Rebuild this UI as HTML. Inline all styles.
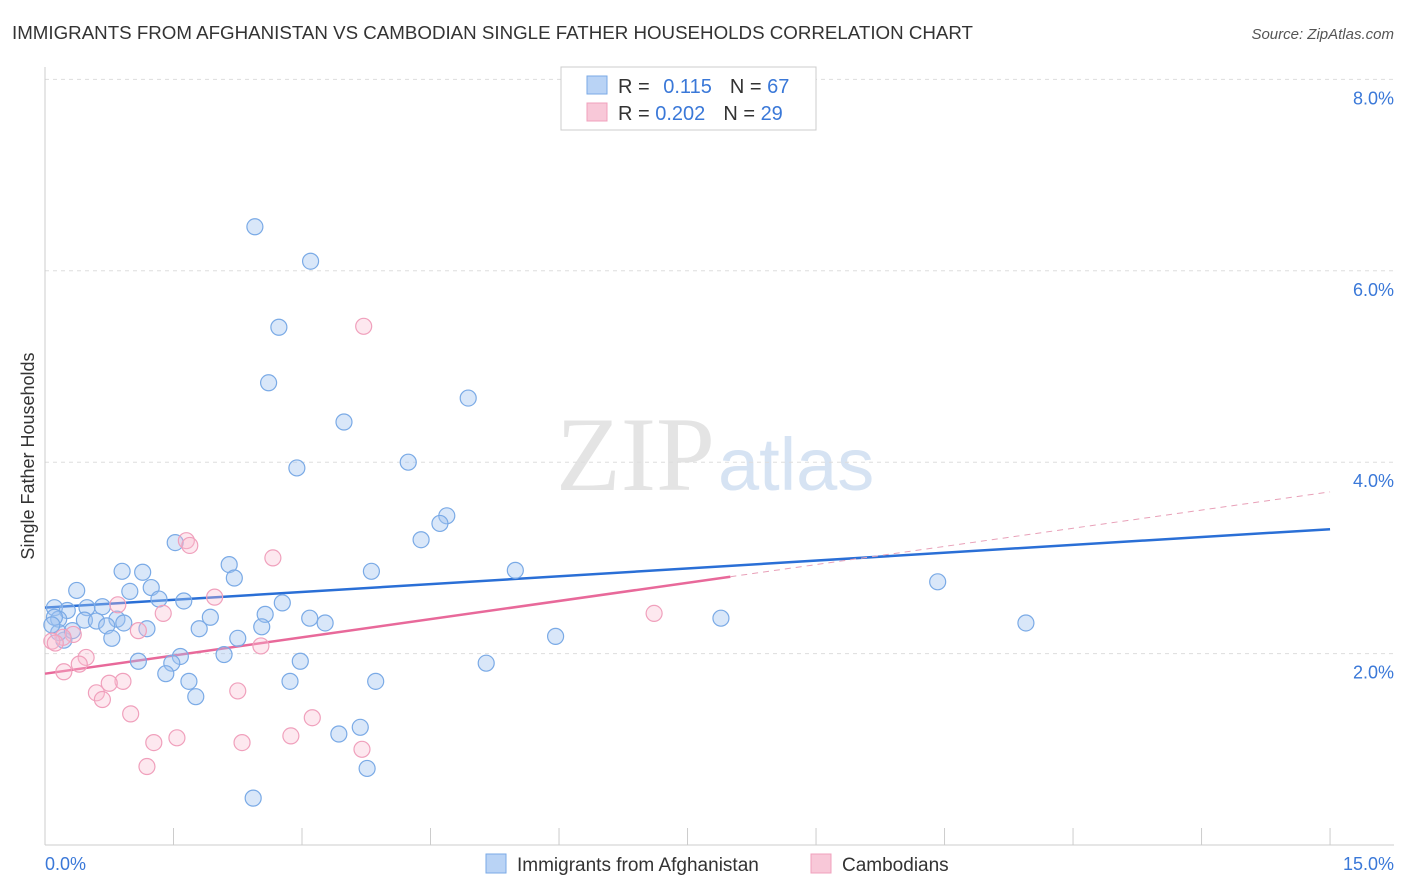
<!DOCTYPE html>
<html><head><meta charset="utf-8"><style>
body{margin:0;background:#fff;font-family:"Liberation Sans",sans-serif;}
#c{position:relative;width:1406px;height:892px;overflow:hidden;}
</style></head><body>
<div id="c">
<svg id="s" width="1406" height="892" xmlns="http://www.w3.org/2000/svg">
<text x="12" y="39" font-size="18" fill="#333" textLength="961" lengthAdjust="spacingAndGlyphs">IMMIGRANTS FROM AFGHANISTAN VS CAMBODIAN SINGLE FATHER HOUSEHOLDS CORRELATION CHART</text>
<text x="1394" y="39" font-size="15" fill="#555" font-style="italic" text-anchor="end">Source: ZipAtlas.com</text>
<text x="715" y="490" font-size="106" fill="#e4e4e4" font-family="Liberation Serif" text-anchor="end">ZIP</text>
<text x="718" y="490" font-size="74" fill="#d6e3f3">atlas</text>
<text transform="translate(34,456) rotate(-90)" font-size="18" fill="#333" text-anchor="middle">Single Father Households</text>
<g id="grid"></g><g id="axes"></g><g id="lines"></g><g id="pts"></g>
<rect x="561" y="67" width="255" height="63" fill="#fff" stroke="#ccc"/>
<rect x="587" y="76" width="20" height="18" fill="#b9d3f5" stroke="#7aaae6"/>
<rect x="587" y="103" width="20" height="18" fill="#f8c8d8" stroke="#f0a0bc"/>
<text x="618" y="93" font-size="20" fill="#333">R = <tspan fill="#3a78d8" dx="8">0.115</tspan><tspan fill="#333" dx="18">N = </tspan><tspan fill="#3a78d8">67</tspan></text>
<text x="618" y="120" font-size="20" fill="#333">R = <tspan fill="#3a78d8">0.202</tspan><tspan fill="#333" dx="18">N = </tspan><tspan fill="#3a78d8">29</tspan></text>
<rect x="486" y="854" width="20" height="19" fill="#b9d3f5" stroke="#7aaae6"/>
<text x="517" y="871" font-size="19" fill="#333">Immigrants from Afghanistan</text>
<rect x="811" y="854" width="20" height="19" fill="#f8c8d8" stroke="#f0a0bc"/>
<text x="842" y="871" font-size="19" fill="#333">Cambodians</text>
<text x="45" y="870" font-size="18" fill="#3a78d8">0.0%</text>
<text x="1394" y="870" font-size="18" fill="#3a78d8" text-anchor="end">15.0%</text>
</svg></div>
<script>
const yTicks=[2,4,6,8];
const blueX=[2.45,3.10,2.73,2.61,4.94,3.49,4.24,2.94,4.69,4.61,4.39,1.52,2.15,3.81,5.49,0.90,1.14,2.21,10.42,0.37,0.99,1.24,1.33,1.62,2.77,0.11,0.26,0.49,0.67,2.57,1.93,3.09,7.89,11.45,0.84,0.46,0.60,0.92,3.27,0.72,0.16,1.19,1.80,2.53,5.96,2.25,0.78,0.22,0.16,2.09,1.58,1.09,1.48,2.98,5.15,1.41,1.68,2.86,3.86,1.76,3.68,3.43,3.76,2.43,0.11,0.32,0.08];
const blueY=[6.46,6.10,5.41,4.83,4.67,4.42,4.00,3.94,3.44,3.36,3.19,3.16,2.93,2.86,2.87,2.86,2.85,2.79,2.75,2.66,2.65,2.69,2.57,2.55,2.53,2.48,2.45,2.48,2.49,2.41,2.38,2.37,2.37,2.32,2.36,2.35,2.34,2.32,2.32,2.29,2.36,2.26,2.26,2.28,2.18,2.16,2.16,2.14,2.22,1.99,1.97,1.92,1.90,1.92,1.90,1.79,1.71,1.71,1.71,1.55,1.23,1.16,0.80,0.49,2.38,2.24,2.30];
const pinkX=[3.72,1.65,1.69,2.66,1.98,0.85,1.38,7.11,1.09,0.33,0.21,0.08,0.12,0.48,0.40,0.22,0.91,0.75,0.60,0.67,2.25,2.52,1.00,3.12,2.87,1.54,1.27,2.30,3.70,1.19];
const pinkY=[5.42,3.18,3.13,3.00,2.59,2.51,2.42,2.42,2.24,2.20,2.17,2.13,2.11,1.96,1.89,1.81,1.71,1.69,1.59,1.52,1.61,2.08,1.37,1.33,1.14,1.12,1.07,1.07,1.00,0.82];
const blueFit=[2.48,3.30];   // value at x=0, x=15
const pinkFit=[1.79,3.69];
const pinkSolidEnd=8;
const X=v=>45+v*85.67, Y=v=>845-v*95.7;
const NS="http://www.w3.org/2000/svg";
function mk(t,a,p){const e=document.createElementNS(NS,t);for(const k in a)e.setAttribute(k,a[k]);p.appendChild(e);return e;}
const grid=document.getElementById('grid'),axes=document.getElementById('axes'),lines=document.getElementById('lines'),pts=document.getElementById('pts');
yTicks.forEach(t=>{
 const l=mk('line',{x1:45,x2:1394,y1:Y(t),y2:Y(t),stroke:'#ddd','stroke-dasharray':'4,4'},grid);
 
 
 const tx=mk('text',{x:1394,y:Y(t)+25,'font-size':18,fill:'#3a78d8','text-anchor':'end'},grid);
 tx.textContent=t.toFixed(1)+'%';
 
 
});
const ax=mk('line',{x1:45,x2:45,y1:67,y2:845,stroke:'#ccc'},axes);


const bx=mk('line',{x1:45,x2:1394,y1:845,y2:845,stroke:'#ccc'},axes);


for(let i=1;i<=10;i++){const t=mk('line',{x1:X(i*1.5),x2:X(i*1.5),y1:828,y2:845,stroke:'#ccc'},axes);
 
 }
function dots(xs,ys,fill,stroke,name){xs.forEach((x,i)=>{const c=mk('circle',{cx:X(x),cy:Y(ys[i]),r:8,fill:fill,stroke:stroke,'stroke-width':1.2},pts);
 
 });}
dots(blueX,blueY,'rgba(160,196,240,0.4)','#7aaae6','point-afghanistan');
dots(pinkX,pinkY,'rgba(248,190,210,0.35)','#f0a0bc','point-cambodians');
const bl=mk('line',{x1:X(0),y1:Y(blueFit[0]),x2:X(15),y2:Y(blueFit[1]),stroke:'#2a6fd6','stroke-width':2.5},lines);


const pv=x=>pinkFit[0]+(pinkFit[1]-pinkFit[0])*x/15;
const pl=mk('line',{x1:X(0),y1:Y(pv(0)),x2:X(pinkSolidEnd),y2:Y(pv(pinkSolidEnd)),stroke:'#e8699a','stroke-width':2.5},lines);


const pd=mk('line',{x1:X(pinkSolidEnd),y1:Y(pv(pinkSolidEnd)),x2:X(15),y2:Y(pv(15)),stroke:'#e8a0b8','stroke-width':1,'stroke-dasharray':'6,5'},lines);


</script></body></html>
